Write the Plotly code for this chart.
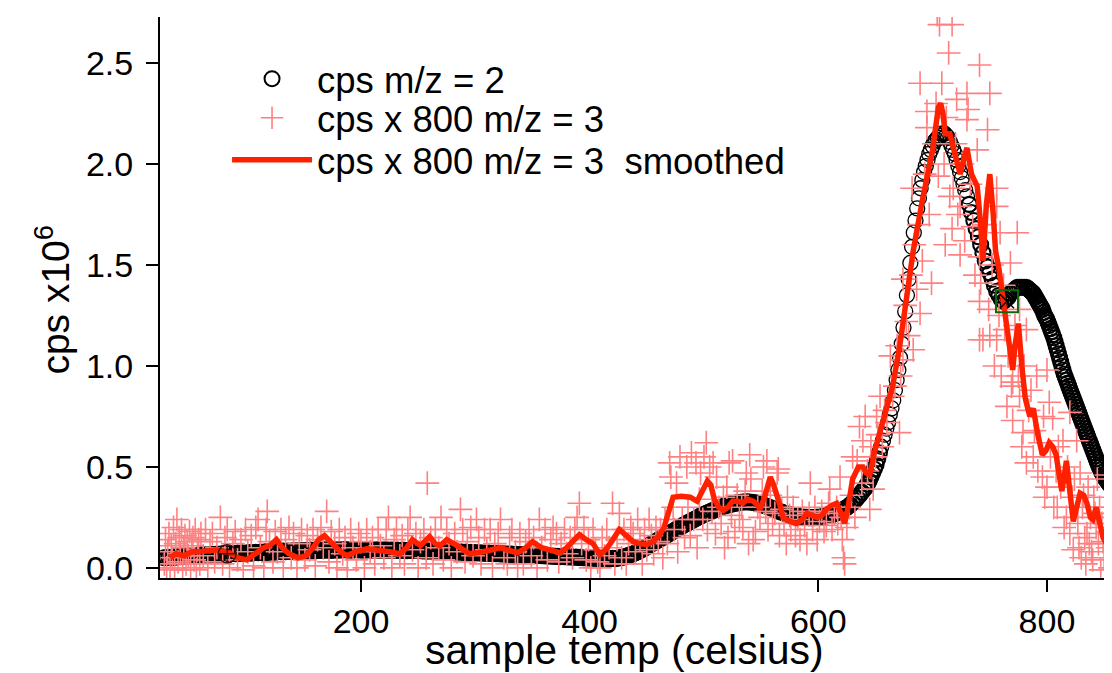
import plotly.graph_objects as go

# ---------------- data ----------------
# m/z = 2 (black open circles): sample temperature grid (celsius) and cps x10^6
temp_m2 = (list(range(28, 428, 2)) + list(range(428, 642, 2))
           + [641.5 + 1.5 * i for i in range(60)]
           + list(range(732, 784, 2)) + list(range(783, 857)))
cps_m2 = [
    # 28 .. 426 (step 2)
    .05, .05, .052, .05, .055, .053, .055, .058, .055, .06,
    .058, .06, .062, .06, .063, .06, .065, .063, .065, .062,
    .065, .067, .065, .068, .066, .07, .068, .07, .067, .07,
    .072, .07, .073, .071, .075, .072, .074, .076, .073, .075,
    .077, .075, .078, .076, .08, .077, .079, .081, .078, .08,
    .082, .08, .083, .08, .084, .082, .085, .083, .085, .084,
    .086, .084, .087, .085, .088, .086, .088, .087, .089, .087,
    .09, .088, .09, .087, .089, .09, .088, .09, .089, .091,
    .089, .09, .088, .09, .091, .089, .09, .088, .09, .089,
    .09, .088, .089, .09, .087, .089, .088, .09, .087, .088,
    .089, .087, .088, .086, .088, .087, .085, .087, .086, .088,
    .086, .085, .087, .084, .086, .083, .085, .084, .082, .084,
    .083, .081, .083, .08, .082, .08, .079, .081, .078, .08,
    .078, .077, .079, .076, .077, .075, .076, .074, .075, .073,
    .074, .072, .073, .071, .072, .07, .071, .069, .07, .068,
    .069, .067, .068, .066, .067, .065, .066, .064, .065, .063,
    .064, .062, .063, .061, .062, .06, .061, .059, .06, .058,
    .059, .057, .058, .056, .057, .055, .056, .054, .055, .053,
    .054, .052, .053, .05, .051, .049, .05, .048, .049, .047,
    .048, .046, .047, .045, .046, .045, .047, .046, .048, .05,
    # 428 .. 640 (step 2)
    .052, .055, .058, .062, .066, .07, .075, .08, .086, .092,
    .098, .105, .112, .118, .125, .132, .138, .145, .152, .158,
    .165, .172, .178, .185, .192, .198, .205, .212, .218, .224,
    .23, .236, .242, .248, .254, .26, .265, .27, .275, .28,
    .285, .29, .295, .299, .303, .307, .31, .313, .316, .319,
    .321, .323, .325, .326, .327, .327, .326, .325, .323, .321,
    .318, .315, .311, .307, .303, .299, .294, .289, .285, .28,
    .276, .272, .268, .265, .262, .259, .257, .255, .253, .252,
    .251, .25, .249, .249, .249, .25, .251, .252, .254, .256,
    .258, .261, .264, .268, .272, .277, .283, .289, .296, .304,
    .313, .323, .334, .346, .36, .375, .39,
    # 641.5 .. 730 (step 1.5)
    .40, .415, .43, .45, .47, .49, .51, .54, .57, .60,
    .63, .66, .69, .72, .76, .79, .83, .88, .93, .98,
    1.04, 1.11, 1.19, 1.27, 1.35, 1.43, 1.51, 1.59, 1.66, 1.72,
    1.78, 1.83, 1.88, 1.92, 1.96, 1.99, 2.02, 2.05, 2.07, 2.09,
    2.11, 2.12, 2.13, 2.14, 2.15, 2.15, 2.15, 2.14, 2.13, 2.11,
    2.09, 2.07, 2.05, 2.02, 1.99, 1.96, 1.93, 1.90, 1.87, 1.84,
    # 732 .. 782 (step 2)
    1.80, 1.76, 1.72, 1.68, 1.64, 1.60, 1.56, 1.52, 1.49, 1.46,
    1.43, 1.40, 1.37, 1.35, 1.33, 1.32, 1.33, 1.34, 1.36, 1.37,
    1.38, 1.39, 1.39, 1.39, 1.39, 1.39,
    # 783 .. 856 (step 1)
    1.385, 1.38, 1.375, 1.37, 1.365, 1.36, 1.35, 1.34, 1.33, 1.32,
    1.31, 1.30, 1.29, 1.28, 1.265, 1.25, 1.24, 1.23, 1.215, 1.20,
    1.185, 1.17, 1.155, 1.14, 1.12, 1.10, 1.08, 1.06, 1.04, 1.02,
    1.00, 0.98, 0.96, 0.945, 0.93, 0.915, 0.90, 0.885, 0.87, 0.855,
    0.84, 0.825, 0.81, 0.795, 0.78, 0.765, 0.75, 0.735, 0.72, 0.705,
    0.69, 0.675, 0.66, 0.645, 0.63, 0.615, 0.60, 0.585, 0.57, 0.555,
    0.54, 0.525, 0.51, 0.497, 0.485, 0.473, 0.462, 0.452, 0.443, 0.435,
    0.427, 0.42, 0.413, 0.407,
]

# m/z = 3 raw (cps x 800, pink crosses)
temp_m3 = [28, 29, 30, 31, 32, 33, 34, 35, 36, 37, 38, 39, 40, 41, 42, 43, 44, 45, 46, 47,
           48, 49, 50, 51, 52, 53, 54, 55, 56, 57, 58, 59, 60,
           62, 64, 66, 68, 70, 72, 74, 77, 79, 81, 83, 85, 88, 90, 92, 95, 97, 99, 101, 104, 106, 108,
           110, 112, 115, 117, 118, 120, 123, 125, 127, 130, 132, 134, 137, 139, 141, 144, 146, 148, 151, 153,
           155, 158, 160, 162, 165, 167, 170, 172, 174, 177, 179, 181, 184, 186, 188, 191, 193, 196, 198, 200,
           203, 205, 208, 210, 212, 215, 217, 220, 222, 224, 227, 229, 231, 234, 236, 238, 241, 243, 245, 248,
           250, 252, 255, 257, 258, 261, 263, 265, 268, 270, 272, 275, 277, 279, 282, 284, 287, 289, 291, 293,
           296, 298, 301, 303, 305, 308, 310, 313, 315, 317, 320, 322, 325, 328, 330, 332, 335, 337, 339, 342,
           344, 347, 349, 351, 354, 356, 358, 361, 363, 366, 368, 371, 373, 375, 378, 380, 383, 385, 387, 389,
           391, 393, 395, 397, 399, 401, 403, 405, 407, 409, 411, 413, 415, 417, 420, 422, 424, 426, 428, 430,
           432, 434, 436, 438, 440, 442, 444, 446, 448, 450, 452, 454, 456, 458, 460,
           462, 464, 466, 468, 470, 471, 473, 474, 476, 477, 479, 481, 483, 485, 486, 488, 489, 491, 493, 494,
           496, 497, 499, 500, 502, 503, 505, 507, 508, 510, 511, 513, 515, 517, 518, 520, 521, 522, 524, 525,
           527, 529, 531, 533, 534, 536, 537, 539, 540, 541, 543, 545, 547, 549, 551, 552, 554, 555, 556, 558,
           560, 562, 564, 565, 566, 568, 570, 572, 573, 575, 576, 578, 580, 582, 584, 586, 588, 590, 592, 593,
           595, 597, 599, 601, 603, 605, 607, 609, 610, 612, 614, 616, 617, 619, 620, 621, 622, 623, 625, 627,
           629, 630, 632, 634, 636, 638, 639, 641, 643, 645, 646, 648, 650, 651, 652, 654, 656, 658, 660, 663,
           665, 667, 669, 671, 672, 674, 674, 676, 677, 679, 681, 682, 683, 684, 686, 688, 689, 689, 691, 693,
           695, 695, 697, 699, 701, 703, 704, 705, 706, 708, 710, 711, 712, 714, 715, 717, 717, 718, 720, 721,
           722, 724, 724, 726, 728, 730, 730, 731, 733, 735, 737, 739, 741, 741, 741, 741, 742, 744, 746, 748,
           749, 750, 750, 752, 754, 756, 756, 756, 758, 759, 760, 762, 763, 765, 766, 768, 769, 770, 770, 770,
           772, 774, 775, 776, 776, 778, 779, 780, 782, 782, 784, 786, 788, 789, 791, 792, 794, 796, 797, 798,
           800, 800, 802, 803, 805, 806, 808, 809, 810, 812, 814, 815, 817, 818, 820, 820, 822, 823, 824, 826,
           827, 828, 829, 830, 831, 832, 833, 834, 835, 836, 837, 838, 839, 840, 841, 842, 843, 844, 845, 846,
           847, 848, 849, 850, 851, 852, 853, 854, 855, 856]
cps800_m3 = [0.02, 0.14, 0.0, 0.08, 0.17, -0.01, 0.11, 0.05, 0.2, 0.0, 0.12, 0.24, 0.03, 0.15, 0.07, 0.19, -0.01, 0.1, 0.16, 0.02,
             0.13, 0.06, 0.18, 0.0, 0.11, 0.15, 0.04, 0.19, -0.01, 0.09, 0.14, 0.02, 0.17,
             0.06, 0.19, 0.0, 0.13, 0.17, 0.03, 0.1, 0.25, 0.02, 0.15, 0.19, 0.0, 0.12, 0.18, 0.04, 0.14, -0.01, 0.19, 0.08, 0.16, 0.01, 0.2,
             0.24, 0.1, 0.0, 0.19, 0.28, 0.13, 0.03, 0.18, 0.08, 0.19, 0.0, 0.14, 0.2, 0.05, 0.17, 0.0, 0.12, 0.19, 0.04, 0.16,
             0.09, 0.19, 0.01, 0.14, 0.2, 0.1, 0.28, 0.03, 0.18, 0.12, 0.0, 0.19, 0.07, 0.15, -0.01, 0.19, 0.1, 0.04, 0.17, 0.13,
             0.0, 0.19, 0.08, 0.15, 0.02, 0.19, 0.11, 0.05, 0.19, 0.25, 0.0, 0.14, 0.19, 0.06, 0.16, 0.02, 0.19, 0.25, 0.09, 0.17,
             0.0, 0.13, 0.19, 0.05, 0.42, 0.15, 0.02, 0.19, 0.1, 0.25, 0.04, 0.19, 0.12, 0.0, 0.17, 0.08, 0.29, 0.19, 0.03, 0.13,
             0.2, 0.06, 0.24, 0.15, 0.02, 0.19, 0.09, 0.19, 0.0, 0.12, 0.17, 0.24, 0.05, 0.02, 0.15, 0.19, 0.08, 0.0, 0.17, 0.02,
             0.13, 0.19, 0.06, 0.15, 0.0, 0.24, 0.1, 0.19, 0.04, 0.14, 0.2, 0.17, 0.03, 0.12, 0.19, 0.07, 0.15, 0.05, 0.19, 0.25,
             0.32, 0.12, 0.2, 0.04, 0.14, 0.0, 0.19, 0.09, 0.03, 0.0, 0.15, 0.06, 0.19, 0.1, 0.32, 0.02, 0.14, 0.27, 0.05, 0.19,
             0.02, 0.12, 0.2, 0.17, 0.08, 0.24, 0.14, 0.02, 0.19, 0.09, 0.24, 0.16, 0.07, 0.2, 0.13,
             0.19, 0.05, 0.24, 0.12, 0.52, 0.45, 0.3, 0.19, 0.42, 0.08, 0.55, 0.24, 0.15, 0.50, 0.3, 0.16, 0.57, 0.24, 0.52, 0.1,
             0.34, 0.47, 0.24, 0.55, 0.62, 0.19, 0.50, 0.28, 0.52, 0.17, 0.45, 0.3, 0.22, 0.35, 0.1, 0.40, 0.15, 0.52, 0.26, 0.53,
             0.18, 0.36, 0.24, 0.3, 0.2, 0.38, 0.47, 0.12, 0.56, 0.44, 0.14, 0.18, 0.3, 0.25, 0.38, 0.50, 0.28, 0.53, 0.19, 0.36,
             0.22, 0.27, 0.47, 0.49, 0.16, 0.29, 0.22, 0.12, 0.35, 0.26, 0.19, 0.3, 0.16, 0.24, 0.14, 0.28, 0.21, 0.12, 0.27, 0.42,
             0.19, 0.3, 0.14, 0.23, 0.28, 0.18, 0.21, 0.32, 0.39, 0.19, 0.27, 0.3, 0.22, 0.45, 0.25, 0.14, 0.05, 0.02, 0.20, 0.3,
             0.36, 0.55, 0.25, 0.53, 0.70, 0.42, 0.63, 0.75, 0.48, 0.29, 0.6, 0.39, 0.55, 0.75, 0.66, 0.85, 0.6, 0.78, 0.72, 1.05,
             0.85, 0.9, 1.1, 0.67, 0.95, 1.03, 1.43, 1.3, 1.22, 1.15, 1.45, 1.88, 1.08, 1.6, 1.38, 1.7, 1.26, 2.40, 1.52, 1.95,
             2.18, 2.26, 1.75, 1.41, 2.1, 2.3, 2.74, 1.94, 2.69, 2.40, 2.0, 1.60, 2.23, 2.55, 1.84, 2.69, 1.68, 1.88, 2.1, 2.32,
             1.75, 1.79, 1.55, 2.0, 1.62, 2.35, 2.22, 2.27, 1.9, 1.69, 1.45, 2.07, 2.49, 1.54, 1.32, 1.13, 1.41, 1.13, 1.7, 2.17,
             1.28, 2.35, 1.15, 1.5, 1.0, 1.88, 1.79, 1.13, 1.25, 1.66, 0.95, 1.4, 1.18, 0.80, 1.05, 1.51, 0.9, 1.05, 0.92, 0.73,
             1.2, 1.66, 0.95, 1.28, 0.85, 0.6, 0.67, 1.0, 1.18, 0.52, 0.78, 0.88, 0.55, 0.68, 0.95, 0.48, 0.62, 0.45, 0.75, 0.35,
             0.98, 0.40, 0.82, 0.55, 0.74, 0.3, 0.48, 0.30, 0.6, 0.4, 0.63, 0.2, 0.25, 0.5, 0.77, 0.17, 0.35, 0.09, 0.44, 0.63,
             0.22, 0.1, 0.47, 0.05, 0.3, 0.36, 0.15, 0.02, 0.17, 0.4, 0.12, 0.25, 0.08, 0.04, 0.35, 0.27, 0.2, 0.44, 0.12, 0.30,
             -0.01, 0.22, 0.13, 0.05, 0.3, 0.46, 0.1, 0.18, 0.0, 0.25]

# m/z = 3 smoothed (cps x 800, red line)
temp_smooth = [33, 38, 45, 52, 59, 66, 74, 80, 85, 92, 100, 105, 110, 115, 120, 126, 131, 137, 145, 152,
               158, 163, 168, 175, 182, 188, 195, 205, 215, 225, 234, 240, 245, 252, 260, 265, 269, 275, 284, 290,
               295, 307, 315, 322, 330, 337, 344, 350, 358, 365, 374, 380, 386, 391, 397, 403, 409, 414, 418, 422,
               426, 432, 438, 444, 450, 455, 461, 465, 468, 471, 473, 480, 488, 494, 499, 503, 506, 509, 513, 517,
               521, 525, 530, 534, 538, 543, 547, 549, 553, 556, 558, 561, 564, 567, 569, 575, 581, 586, 590, 595,
               599, 603, 607, 612, 616, 620, 623, 626, 630, 635, 639, 642, 645, 649, 654, 660, 665, 671, 677, 683,
               691, 700, 705, 707, 709, 711, 715, 719, 724, 727, 730, 734, 739, 742, 744, 747, 750, 753, 755, 758,
               760, 763, 765, 768, 770, 772, 775, 778, 781, 785, 788, 792, 796, 799, 802, 805, 808, 811, 813, 815,
               817, 820, 823, 826, 829, 832, 835, 838, 840, 843, 846, 849, 852, 855, 856]
cps800_smooth = [0.05, 0.07, 0.06, 0.08, 0.08, 0.085, 0.09, 0.08, 0.075, 0.05, 0.04, 0.06, 0.08, 0.1, 0.11, 0.14, 0.1, 0.07, 0.05, 0.06,
                 0.1, 0.14, 0.16, 0.12, 0.08, 0.06, 0.08, 0.095, 0.09, 0.08, 0.07, 0.1, 0.14, 0.11, 0.155, 0.12, 0.11, 0.14, 0.11, 0.085,
                 0.07, 0.08, 0.09, 0.1, 0.085, 0.075, 0.1, 0.13, 0.1, 0.09, 0.075, 0.1, 0.14, 0.165, 0.14, 0.12, 0.065, 0.09, 0.12, 0.16,
                 0.19, 0.16, 0.13, 0.12, 0.115, 0.13, 0.16, 0.2, 0.25, 0.32, 0.35, 0.355, 0.35, 0.33, 0.38, 0.43, 0.41, 0.34, 0.3, 0.285,
                 0.3, 0.33, 0.33, 0.32, 0.34, 0.33, 0.31, 0.29, 0.35, 0.42, 0.45, 0.41, 0.36, 0.3, 0.25, 0.23, 0.22, 0.24, 0.27, 0.26,
                 0.25, 0.26, 0.29, 0.31, 0.32, 0.27, 0.22, 0.3, 0.44, 0.5, 0.5, 0.47, 0.46, 0.57, 0.68, 0.79, 0.9, 1.09, 1.33, 1.57,
                 1.82, 2.07, 2.28, 2.30, 2.25, 2.15, 2.15, 2.05, 1.95, 2.02, 2.08, 1.95, 1.89, 1.7, 1.52, 1.8, 1.95, 1.75, 1.57, 1.48,
                 1.39, 1.25, 1.16, 1.05, 0.98, 1.1, 1.21, 1.0, 0.84, 0.75, 0.79, 0.66, 0.56, 0.58, 0.62, 0.6, 0.56, 0.45, 0.38, 0.45,
                 0.53, 0.38, 0.23, 0.3, 0.37, 0.36, 0.32, 0.25, 0.24, 0.3, 0.22, 0.15, 0.12, 0.11, 0.15]

# graph cursors (Igor style) sitting on the m/z = 2 trace
cursor_a = (765, 1.32)
cursor_b = (83, 0.07)

x_ticks = [200, 400, 600, 800]
y_ticks = [0.0, 0.5, 1.0, 1.5, 2.0, 2.5]

FONT = "Liberation Sans, Arial, sans-serif"

# circles look thin where they are well separated (steep rising edge), heavy where they pile up
circle_line_w = [1.3 if 655 <= t <= 730 else 2.1 for t in temp_m2]

fig = go.Figure()
fig.add_trace(go.Scatter(
    x=temp_m2, y=cps_m2, mode="markers", name="cps m/z = 2", legend="legend",
    marker=dict(symbol="circle-open", size=15, color="black", line=dict(width=circle_line_w, color="black")),
))
fig.add_trace(go.Scatter(
    x=temp_m3, y=cps800_m3, mode="markers", name="cps x 800 m/z = 3", legend="legend2",
    marker=dict(symbol="cross-thin-open", size=17, color="#ff8080", line=dict(width=1.6, color="#ff8080")),
))
fig.add_trace(go.Scatter(
    x=temp_smooth, y=cps800_smooth, mode="lines", name="cps x 800 m/z = 3  smoothed", legend="legend3",
    line=dict(color="#ff2000", width=5.5),
))
fig.add_trace(go.Scatter(
    x=[cursor_a[0]], y=[cursor_a[1]], mode="markers", showlegend=False,
    marker=dict(symbol="square-open", size=22, color="#0a6a0a", line=dict(width=2, color="#0a6a0a")),
))
fig.add_trace(go.Scatter(
    x=[cursor_a[0]], y=[cursor_a[1]], mode="markers", showlegend=False,
    marker=dict(symbol="x-thin-open", size=14, color="black", line=dict(width=1.5, color="black")),
))
fig.add_trace(go.Scatter(
    x=[cursor_b[0]], y=[cursor_b[1]], mode="markers", showlegend=False,
    marker=dict(symbol="circle-cross-open", size=18, color="#3a1010", line=dict(width=1.4, color="#3a1010")),
))

legend_common = dict(
    x=0.0705, xanchor="left", yanchor="middle",
    bgcolor="rgba(0,0,0,0)", borderwidth=0,
    font=dict(family=FONT, size=36.5, color="black"),
    itemwidth=80, tracegroupgap=0,
)

# The page body adds an 8 px offset, so the figure is 8 px smaller than the window.
fig.update_layout(
    width=1104, height=665,
    margin=dict(l=152, r=1, t=9, b=95),
    paper_bgcolor="white", plot_bgcolor="white",
    font=dict(family=FONT, color="black"),
    showlegend=True,
    legend=dict(legend_common, y=0.8895),
    legend2=dict(legend_common, y=0.820),
    legend3=dict(legend_common, y=0.745),
    xaxis=dict(
        range=[24.2, 856], tickvals=x_ticks, ticktext=[str(v) for v in x_ticks],
        showgrid=False, zeroline=False, showline=True, linecolor="black", linewidth=2,
        ticks="outside", ticklen=12, tickwidth=2, tickcolor="black",
        tickfont=dict(family=FONT, size=34, color="black"),
    ),
    yaxis=dict(
        range=[-0.05, 2.728], tickvals=y_ticks, ticktext=["%.1f" % v for v in y_ticks],
        showgrid=False, zeroline=False, showline=True, linecolor="black", linewidth=2,
        ticks="outside", ticklen=12, tickwidth=2, tickcolor="black",
        tickfont=dict(family=FONT, size=34, color="black"), ticklabelstandoff=6,
    ),
    annotations=[
        dict(text="sample temp (celsius)", xref="paper", yref="paper", x=0.488, y=-0.0835,
             xanchor="center", yanchor="top", showarrow=False,
             font=dict(family=FONT, size=41, color="black")),
        dict(text="cps x10<sup>6</sup>", xref="paper", yref="paper", x=-0.114, y=0.4955,
             xanchor="center", yanchor="middle", textangle=-90, showarrow=False,
             font=dict(family=FONT, size=39, color="black")),
    ],
)

fig.write_html("out.html")
